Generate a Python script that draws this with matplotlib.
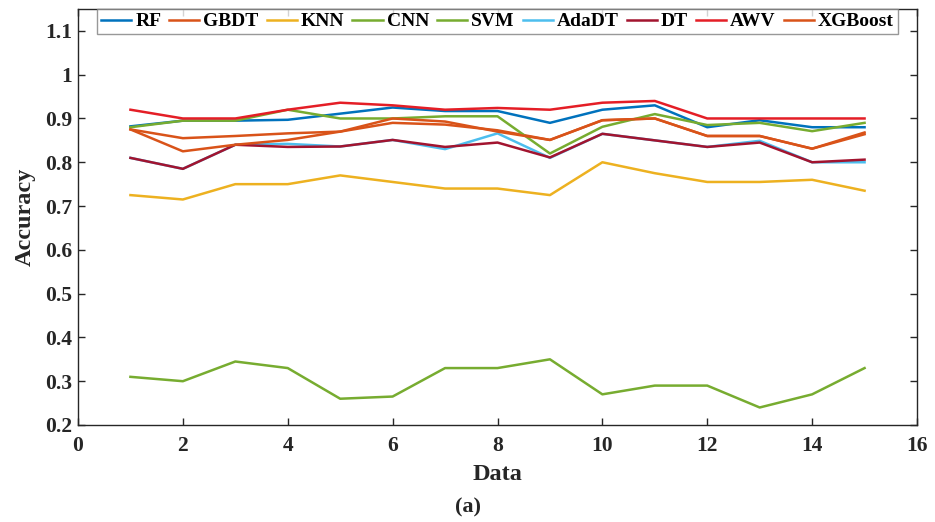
import numpy as np
import matplotlib
matplotlib.use("Agg")
import matplotlib.pyplot as plt

plt.rcParams['font.family'] = ['Liberation Serif', 'DejaVu Serif']
plt.rcParams['font.weight'] = 'bold'

data_idx = list(range(1, 16))

rf = [0.882, 0.895, 0.895, 0.897, 0.911, 0.925, 0.917, 0.917, 0.89, 0.92, 0.93, 0.88, 0.896, 0.88, 0.88]
gbdt = [0.875, 0.855, 0.86, 0.866, 0.87, 0.89, 0.886, 0.873, 0.851, 0.896, 0.90, 0.86, 0.86, 0.831, 0.864]
knn = [0.725, 0.715, 0.75, 0.75, 0.77, 0.755, 0.74, 0.74, 0.725, 0.80, 0.775, 0.755, 0.755, 0.76, 0.735]
cnn = [0.31, 0.30, 0.345, 0.33, 0.26, 0.265, 0.33, 0.33, 0.35, 0.27, 0.29, 0.29, 0.24, 0.27, 0.33]
svm = [0.88, 0.895, 0.895, 0.92, 0.90, 0.90, 0.905, 0.905, 0.82, 0.881, 0.91, 0.885, 0.89, 0.871, 0.89]
adadt = [0.81, 0.785, 0.84, 0.842, 0.836, 0.851, 0.83, 0.866, 0.81, 0.865, 0.85, 0.835, 0.849, 0.80, 0.80]
dt = [0.81, 0.785, 0.84, 0.835, 0.836, 0.851, 0.835, 0.845, 0.811, 0.865, 0.85, 0.835, 0.845, 0.80, 0.806]
awv = [0.92, 0.90, 0.90, 0.92, 0.936, 0.93, 0.92, 0.924, 0.92, 0.936, 0.94, 0.90, 0.90, 0.90, 0.90]
xgboost = [0.875, 0.825, 0.84, 0.851, 0.87, 0.90, 0.893, 0.87, 0.851, 0.896, 0.90, 0.86, 0.86, 0.831, 0.868]

series = [
    ("RF", rf, "#0072BD"),
    ("GBDT", gbdt, "#D95319"),
    ("KNN", knn, "#EDB120"),
    ("CNN", cnn, "#77AC30"),
    ("SVM", svm, "#77AC30"),
    ("AdaDT", adadt, "#4DBEEE"),
    ("DT", dt, "#A2142F"),
    ("AWV", awv, "#E41E26"),
    ("XGBoost", xgboost, "#D95319"),
]

fig = plt.figure(figsize=(9.35, 5.22), dpi=100)
ax = fig.add_axes([78 / 935, 1 - 425 / 522, 839 / 935, 416 / 522])

for name, vals, col in series:
    ax.plot(data_idx, vals, color=col, lw=1.8, label=name)

ax.set_xlim(0, 16)
ax.set_ylim(0.2, 1.15)
ax.set_xticks(np.arange(0, 17, 2))
ax.set_yticks(np.arange(0.2, 1.11, 0.1))
ax.set_yticklabels(["0.2", "0.3", "0.4", "0.5", "0.6", "0.7", "0.8", "0.9", "1", "1.1"])
ax.tick_params(direction='in', top=True, right=True, length=5, width=1,
               labelsize=15.5, colors='#262626')
ax.tick_params(axis='x', pad=8)
ax.tick_params(axis='y', pad=4)
for sp in ax.spines.values():
    sp.set_color('#262626')
    sp.set_linewidth(1)

ax.set_xlabel("Data", fontsize=17.5, fontweight='bold', color='#262626', labelpad=6)
ax.set_ylabel("Accuracy", fontsize=17.5, fontweight='bold', color='#262626', labelpad=7)

leg = ax.legend(loc='upper center', bbox_to_anchor=(0.5, 1.0), ncol=9, frameon=True,
                fancybox=False, borderaxespad=0, handlelength=1.55, handletextpad=0.2,
                columnspacing=0.42, borderpad=0.2, prop={'size': 14, 'weight': 'bold'})
leg.get_frame().set_edgecolor('#7f7f7f')
leg.get_frame().set_linewidth(1)

fig.text(0.5, 1 - 507 / 522, "(a)", ha='center', va='center', fontsize=16,
         fontweight='bold', color='#262626')

fig.savefig("out.png", dpi=100)
